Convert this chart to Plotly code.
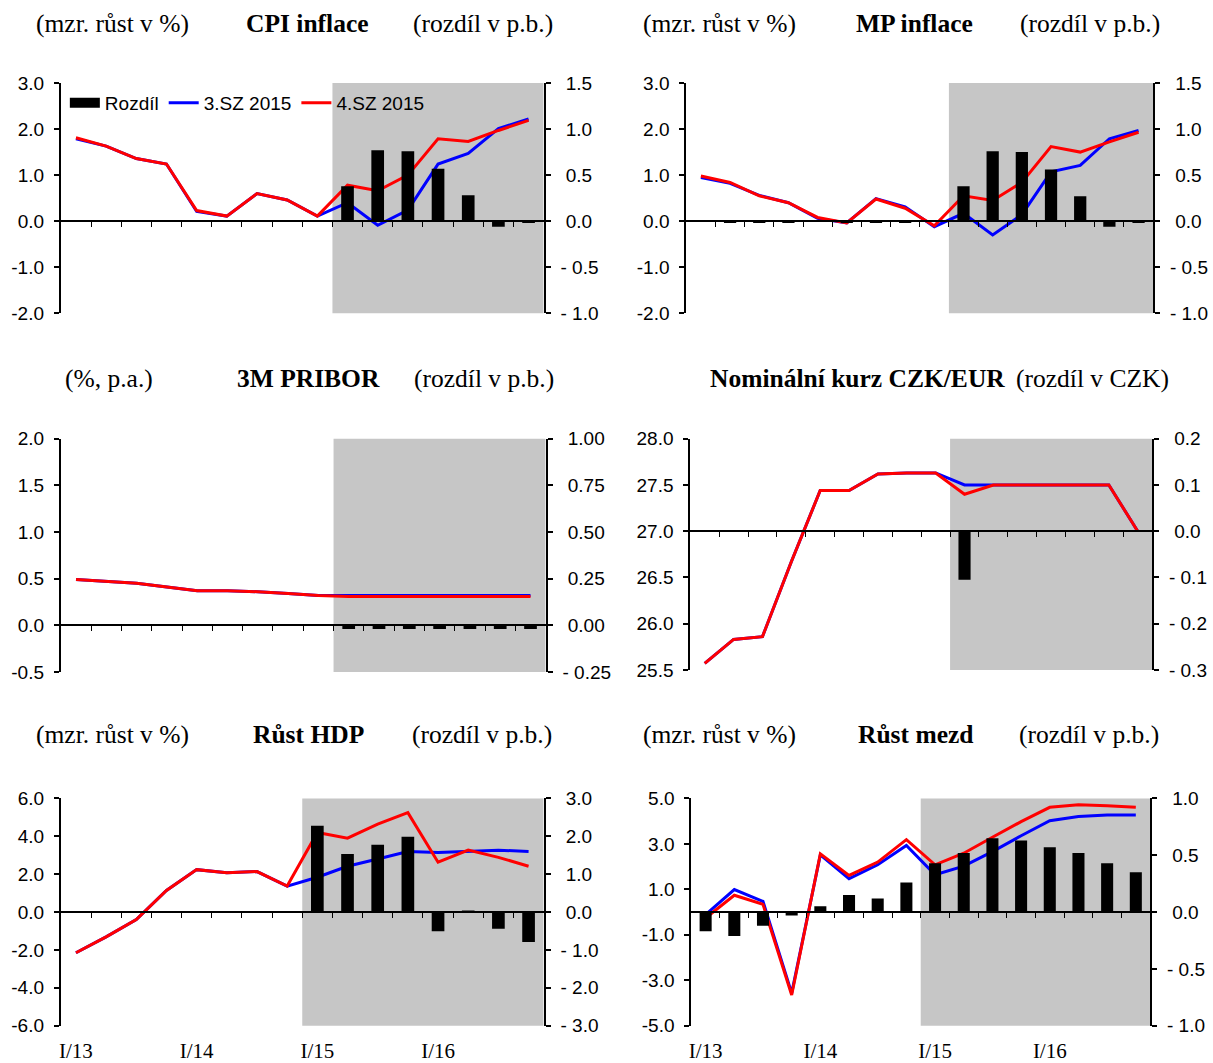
import numpy as np
import plotly.graph_objects as go

W, H = 1213, 1063

quarters = ["I/13", "II/13", "III/13", "IV/13", "I/14", "II/14", "III/14", "IV/14",
            "I/15", "II/15", "III/15", "IV/15", "I/16", "II/16", "III/16", "IV/16"]
year_ticks = ["I/13", "I/14", "I/15", "I/16"]

# CPI inflace (mzr. %)
cpi_3sz = [1.79, 1.63, 1.36, 1.24, 0.21, 0.11, 0.60, 0.46, 0.11, 0.40, -0.09, 0.24, 1.24, 1.47, 2.01, 2.22]
cpi_4sz = [1.81, 1.63, 1.36, 1.24, 0.23, 0.11, 0.60, 0.46, 0.11, 0.78, 0.66, 1.00, 1.79, 1.73, 1.97, 2.19]
cpi_diff = [0.01, 0, 0, 0, 0.01, 0, 0, 0, 0.01, 0.38, 0.77, 0.76, 0.57, 0.28, -0.06, -0.02]

# MP inflace
mp_3sz = [0.95, 0.82, 0.56, 0.40, 0.06, -0.04, 0.49, 0.31, -0.12, 0.17, -0.30, 0.14, 1.07, 1.21, 1.79, 1.97]
mp_4sz = [0.98, 0.84, 0.55, 0.40, 0.08, -0.04, 0.48, 0.28, -0.10, 0.55, 0.45, 0.84, 1.62, 1.50, 1.72, 1.93]
mp_diff = [0, -0.01, -0.01, -0.01, 0.01, -0.01, -0.01, -0.01, 0.01, 0.38, 0.76, 0.75, 0.56, 0.27, -0.06, -0.02]

# 3M PRIBOR
pribor_3sz = [0.49, 0.47, 0.45, 0.41, 0.37, 0.37, 0.36, 0.34, 0.32, 0.32, 0.32, 0.32, 0.32, 0.32, 0.32, 0.32]
pribor_4sz = [0.49, 0.47, 0.45, 0.41, 0.37, 0.37, 0.36, 0.34, 0.32, 0.31, 0.31, 0.31, 0.31, 0.31, 0.31, 0.31]
pribor_diff = [0, 0, 0, 0, 0, 0, 0, 0, 0, -0.02, -0.02, -0.02, -0.02, -0.02, -0.02, -0.02]

# Nominální kurz CZK/EUR
czk_3sz = [25.57, 25.83, 25.86, 26.67, 27.44, 27.44, 27.62, 27.63, 27.63, 27.50, 27.50, 27.50, 27.50, 27.50, 27.50, 27.00]
czk_4sz = [25.57, 25.83, 25.86, 26.67, 27.44, 27.44, 27.62, 27.63, 27.63, 27.40, 27.50, 27.50, 27.50, 27.50, 27.50, 27.00]
czk_diff = [0, 0, 0, 0, 0, 0, 0, 0, 0, -0.105, 0, 0, 0, 0, 0, 0]

# Růst HDP
gdp_3sz = [-2.15, -1.31, -0.40, 1.14, 2.24, 2.07, 2.14, 1.37, 1.84, 2.42, 2.80, 3.20, 3.15, 3.20, 3.27, 3.20]
gdp_4sz = [-2.15, -1.31, -0.40, 1.14, 2.24, 2.07, 2.14, 1.37, 4.20, 3.90, 4.64, 5.25, 2.63, 3.27, 2.89, 2.42]
gdp_diff = [0, 0, 0, 0, 0, 0, 0, 0, 2.28, 1.53, 1.78, 1.99, -0.51, 0.02, -0.44, -0.79]

# Růst mezd
wage_3sz = [-0.11, 0.99, 0.47, -3.57, 2.52, 1.47, 2.08, 2.93, 1.64, 2.02, 2.66, 3.36, 4.02, 4.21, 4.27, 4.27]
wage_4sz = [-0.26, 0.74, 0.34, -3.65, 2.56, 1.61, 2.20, 3.19, 2.08, 2.59, 3.29, 3.98, 4.61, 4.72, 4.68, 4.61]
wage_diff = [-0.17, -0.21, -0.12, -0.03, 0.05, 0.15, 0.12, 0.26, 0.43, 0.52, 0.65, 0.63, 0.57, 0.52, 0.43, 0.35]

series_names = ["Rozdíl", "3.SZ 2015", "4.SZ 2015"]

panels = [
    dict(blue=cpi_3sz, red=cpi_4sz, diff=cpi_diff, px=(58, 542), py=(83, 314),
         yl=(-2, 3, 1.0, 1), yr=(-1, 1.5, 0.5, 1), shade=9, ty=23,
         titles=[("(mzr. růst v %)", 110), ("CPI inflace", 305), ("(rozdíl v p.b.)", 481)]),
    dict(blue=mp_3sz, red=mp_4sz, diff=mp_diff, px=(685, 1153), py=(83, 314),
         yl=(-2, 3, 1.0, 1), yr=(-1, 1.5, 0.5, 1), shade=9, ty=23,
         titles=[("(mzr. růst v %)", 718), ("MP inflace", 914), ("(rozdíl v p.b.)", 1090)]),
    dict(blue=pribor_3sz, red=pribor_4sz, diff=pribor_diff, px=(58, 544), py=(440, 674),
         yl=(-0.5, 2.0, 0.5, 1), yr=(-0.25, 1.0, 0.25, 2), shade=9, ty=380,
         titles=[("(%, p.a.)", 106), ("3M PRIBOR", 306), ("(rozdíl v p.b.)", 482)]),
    dict(blue=czk_3sz, red=czk_4sz, diff=czk_diff, px=(689, 1152), py=(440, 672),
         yl=(25.5, 28.0, 0.5, 1), yr=(-0.3, 0.2, 0.1, 1), shade=9, ty=380,
         titles=[("Nominální kurz CZK/EUR", 857), ("(rozdíl v CZK)", 1092)]),
    dict(blue=gdp_3sz, red=gdp_4sz, diff=gdp_diff, px=(58, 542), py=(801, 1029),
         yl=(-6, 6, 2.0, 1), yr=(-3, 3, 1.0, 1), shade=8, ty=737,
         titles=[("(mzr. růst v %)", 110), ("Růst HDP", 306), ("(rozdíl v p.b.)", 480)]),
    dict(blue=wage_3sz, red=wage_4sz, diff=wage_diff, px=(690, 1150), py=(801, 1029),
         yl=(-5, 5, 2.0, 1), yr=(-1, 1, 0.5, 1), shade=8, ty=737,
         titles=[("(mzr. růst v %)", 718), ("Růst mezd", 915), ("(rozdíl v p.b.)", 1089)]),
]

bold_titles = {"CPI inflace", "MP inflace", "3M PRIBOR", "Nominální kurz CZK/EUR", "Růst HDP", "Růst mezd"}

SANS = "Liberation Sans, Arial, sans-serif"
SERIF = "Liberation Serif, Times New Roman, serif"
TICKF = dict(family=SANS, size=19, color="black")
GRAY = "#C6C6C6"


def cal(y):
    # vertical placement correction (target pixel row -> layout pixel row)
    return (y - 9.7) / 0.98


fig = go.Figure()
layout = dict(width=W, height=H, margin=dict(l=0, r=0, t=0, b=0),
              paper_bgcolor="white", plot_bgcolor="white", showlegend=True,
              barmode="overlay")
shapes = []
annotations = []


def ax_name(kind, i):
    return kind + ("" if i == 1 else str(i))


def ticks(lo, hi, step, dec, right):
    n = int(round((hi - lo) / step))
    vals = [round(lo + k * step, 6) for k in range(n + 1)]
    txt = []
    for v in vals:
        if right:
            txt.append(("- " + f"{abs(v):.{dec}f}") if v < -1e-9 else "\u00a0" + f"{abs(v):.{dec}f}")
        else:
            txt.append(f"{v:.{dec}f}")
    return vals, txt


for p, P in enumerate(panels):
    xm, xo = 2 * p + 1, 2 * p + 2
    yl_i, yr_i = 2 * p + 1, 2 * p + 2
    xd = [P["px"][0] / W, P["px"][1] / W]
    yd = [1 - cal(P["py"][1]) / H, 1 - cal(P["py"][0]) / H]
    lo, hi, st, dec = P["yl"]
    rlo, rhi, rst, rdec = P["yr"]
    zero_frac = (0 - rlo) / (rhi - rlo)
    zero_pos = yd[0] + (yd[1] - yd[0]) * zero_frac
    bottom = p >= 4

    layout[ax_name("xaxis", xm)] = dict(
        domain=xd, anchor=ax_name("y", yl_i), type="category",
        range=[-0.5, 15.5], showline=False, showgrid=False, zeroline=False,
        tickmode="array", tickvals=year_ticks, ticktext=year_ticks,
        showticklabels=bottom, ticks="outside" if bottom else "",
        ticklen=6, tickcolor="rgba(0,0,0,0)",
        tickfont=dict(family=SERIF, size=21, color="black"))
    layout[ax_name("xaxis", xo)] = dict(
        domain=xd, overlaying=ax_name("x", xm), anchor="free", position=zero_pos,
        type="linear", range=[-0.5, 15.5], showline=True, linecolor="black", linewidth=1.8,
        showgrid=False, zeroline=False, ticks="outside", ticklen=5, tickwidth=1.3,
        tickcolor="black", tickmode="array", tickvals=[k + 0.5 for k in range(15)],
        showticklabels=False, layer="above traces")
    lv, lt = ticks(lo, hi, st, dec, False)
    layout[ax_name("yaxis", yl_i)] = dict(
        domain=yd, anchor=ax_name("x", xm), range=[lo, hi], showline=True,
        linecolor="black", linewidth=2, showgrid=False, zeroline=False,
        ticks="outside", ticklen=5, tickwidth=1.5, tickcolor="black",
        tickmode="array", tickvals=lv, ticktext=lt, tickfont=TICKF,
        ticklabelstandoff=6)
    rv, rt = ticks(rlo, rhi, rst, rdec, True)
    layout[ax_name("yaxis", yr_i)] = dict(
        domain=yd, anchor=ax_name("x", xm), overlaying=ax_name("y", yl_i), side="right",
        range=[rlo, rhi], showline=True, linecolor="black", linewidth=2,
        showgrid=False, zeroline=False, ticks="outside", ticklen=5, tickwidth=1.5,
        tickcolor="black", tickmode="array", tickvals=rv, ticktext=rt, tickfont=TICKF,
        ticklabelstandoff=6)

    shapes.append(dict(type="rect", xref=ax_name("x", xm), yref=ax_name("y", yl_i) + " domain",
                       x0=P["shade"] - 0.5, x1=15.5, y0=0, y1=1, fillcolor=GRAY,
                       line=dict(width=0), layer="below"))

    xs = ax_name("x", xm)
    # empty trace so that the zero-line axis is drawn
    fig.add_trace(go.Scatter(x=[None], y=[None], xaxis=ax_name("x", xo), yaxis=ax_name("y", yl_i),
                             mode="lines", showlegend=False, hoverinfo="skip"))
    fig.add_trace(go.Bar(x=quarters, y=P["diff"], xaxis=xs, yaxis=ax_name("y", yr_i),
                         marker=dict(color="black", line=dict(width=0)), width=0.42,
                         name=series_names[0], showlegend=False, hoverinfo="skip"))
    if p == 0:
        fig.add_trace(go.Scatter(x=[None], y=[None], xaxis=xs, yaxis=ax_name("y", yl_i),
                                 mode="lines", line=dict(color="black", width=10),
                                 name=series_names[0], showlegend=True))
    fig.add_trace(go.Scatter(x=quarters, y=P["blue"], xaxis=xs, yaxis=ax_name("y", yl_i),
                             mode="lines", line=dict(color="#0000FF", width=3),
                             name=series_names[1], showlegend=(p == 0)))
    fig.add_trace(go.Scatter(x=quarters, y=P["red"], xaxis=xs, yaxis=ax_name("y", yl_i),
                             mode="lines", line=dict(color="#FF0000", width=3),
                             name=series_names[2], showlegend=(p == 0)))

    for text, cx in P["titles"]:
        t = f"<b>{text}</b>" if text in bold_titles else text
        annotations.append(dict(text=t, x=cx / W, y=1 - cal(P["ty"]) / H, xref="paper", yref="paper",
                                xanchor="center", yanchor="middle", showarrow=False,
                                font=dict(family=SERIF, size=25.5, color="black")))

layout["shapes"] = shapes
layout["annotations"] = annotations
layout["legend"] = dict(orientation="h", x=62 / W, xanchor="left", y=1 - cal(103) / H,
                        yanchor="middle", font=dict(family=SANS, size=19, color="black"),
                        bgcolor="rgba(0,0,0,0)", itemwidth=30, tracegroupgap=0)
fig.update_layout(**layout)
fig.write_html("out.html", config={"displayModeBar": False},
               post_script="document.body.style.margin='0px';document.body.style.overflow='hidden';")
